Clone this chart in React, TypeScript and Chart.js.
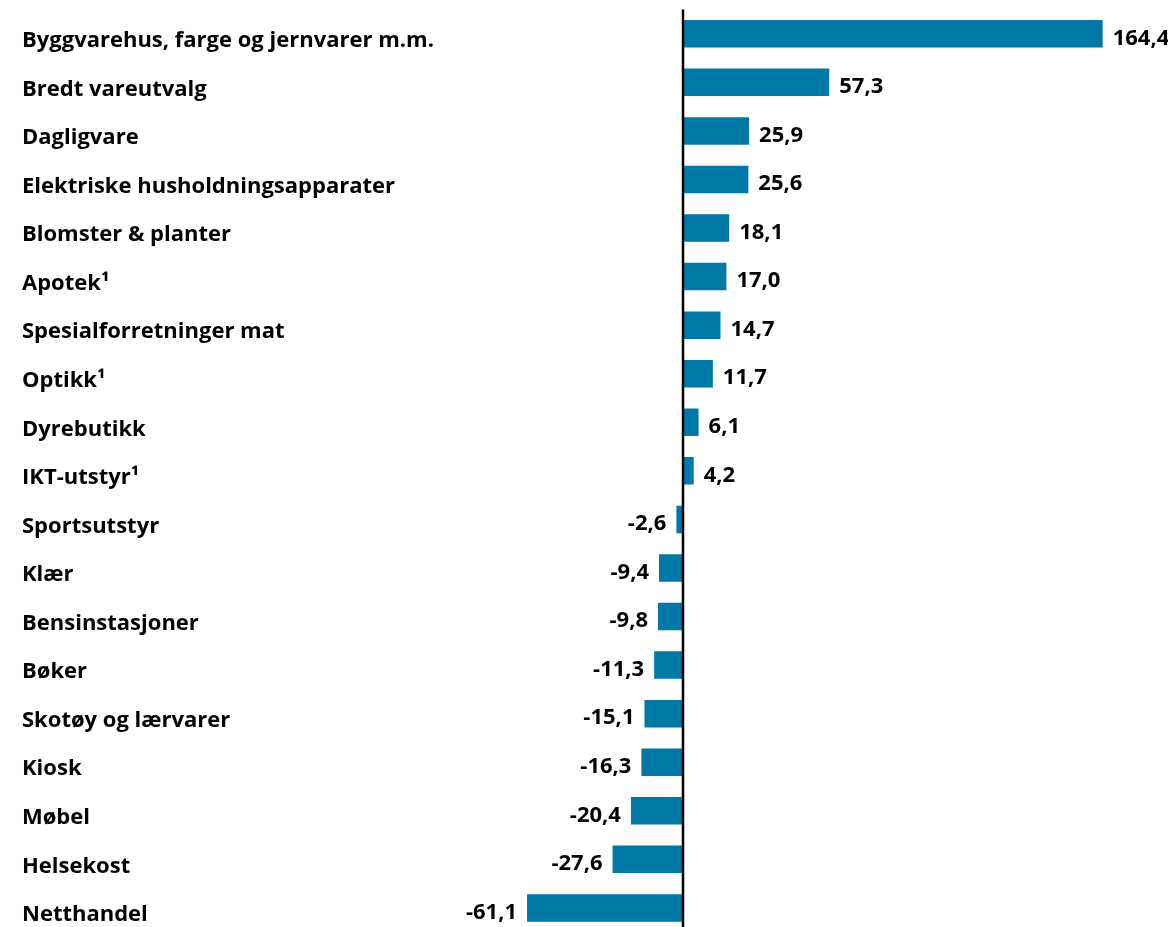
import React, { useEffect, useRef } from "react";
import { Chart, registerables } from "chart.js";

Chart.register(...registerables);

const categories = [
  "Byggvarehus, farge og jernvarer m.m.",
  "Bredt vareutvalg",
  "Dagligvare",
  "Elektriske husholdningsapparater",
  "Blomster & planter",
  "Apotek¹",
  "Spesialforretninger mat",
  "Optikk¹",
  "Dyrebutikk",
  "IKT-utstyr¹",
  "Sportsutstyr",
  "Klær",
  "Bensinstasjoner",
  "Bøker",
  "Skotøy og lærvarer",
  "Kiosk",
  "Møbel",
  "Helsekost",
  "Netthandel",
];

const values = [
  164.4, 57.3, 25.9, 25.6, 18.1, 17.0, 14.7, 11.7, 6.1, 4.2, -2.6, -9.4, -9.8,
  -11.3, -15.1, -16.3, -20.4, -27.6, -61.1,
];

const BAR_COLOR = "#0079A7";
const FONT_FAMILY = "'Open Sans', 'Noto Sans', sans-serif";
const FONT = `bold 22px ${FONT_FAMILY}`;

const fmt = (v: number) => v.toFixed(1).replace(".", ",");

const overlayPlugin = {
  id: "overlay",
  afterDatasetsDraw(chart: any) {
    const ctx = chart.ctx;
    const xs = chart.scales.x;
    const ys = chart.scales.y;
    const ca = chart.chartArea;
    const x0 = xs.getPixelForValue(0);
    ctx.save();
    ctx.strokeStyle = "#000";
    ctx.lineWidth = 2.5;
    ctx.beginPath();
    ctx.moveTo(x0, ca.top);
    ctx.lineTo(x0, ca.bottom);
    ctx.stroke();

    ctx.fillStyle = "#000";
    ctx.font = FONT;
    ctx.textBaseline = "middle";

    // category labels, left aligned at the axis box's left edge
    ctx.textAlign = "left";
    categories.forEach((c, i) => {
      ctx.fillText(c, ys.left, ys.getPixelForTick(i) + 7);
    });

    // value labels at bar ends
    const meta = chart.getDatasetMeta(0);
    meta.data.forEach((el: any, i: number) => {
      const v = values[i];
      const txt = fmt(v);
      if (v >= 0) {
        ctx.textAlign = "left";
        ctx.fillText(txt, el.x + 10, el.y + 4.5);
      } else {
        ctx.textAlign = "right";
        ctx.fillText(txt, el.x - 10, el.y + 4.5);
      }
    });
    ctx.restore();
  },
};

export default function App() {
  const ref = useRef<HTMLCanvasElement | null>(null);

  useEffect(() => {
    if (!ref.current) return;
    const chart = new Chart(ref.current, {
      type: "bar",
      data: {
        labels: categories,
        datasets: [
          {
            data: values,
            backgroundColor: BAR_COLOR,
            borderWidth: 0,
            categoryPercentage: 1,
            barPercentage: 0.566,
          },
        ],
      },
      options: {
        indexAxis: "y",
        responsive: false,
        animation: false,
        devicePixelRatio: 1,
        layout: { padding: { left: 14, right: 0, top: 1.5, bottom: 1.8 } },
        plugins: {
          legend: { display: false },
          tooltip: { enabled: false },
        },
        scales: {
          x: { display: false, min: -80, max: 190 },
          y: {
            type: "category",
            grid: { display: false },
            border: { display: false },
            ticks: { display: false },
            afterFit: (s: any) => {
              s.width = 456.8;
              s.paddingTop = 0;
              s.paddingBottom = 0;
            },
          },
        },
      },
      plugins: [overlayPlugin],
    } as any);
    return () => chart.destroy();
  }, []);

  return (
    <div style={{ width: 1160, height: 919, overflow: "hidden" }}>
      <canvas ref={ref} width={1160} height={926} style={{ display: "block" }} />
    </div>
  );
}
